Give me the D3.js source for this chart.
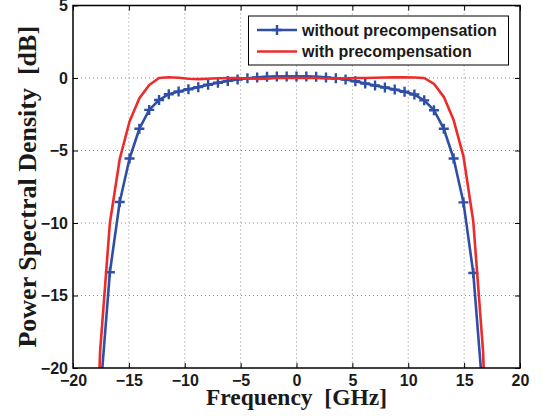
<!DOCTYPE html>
<html>
<head>
<meta charset="utf-8">
<script src="https://cdn.jsdelivr.net/npm/d3@7"></script>
<style>
  body { margin: 0; background: #fff; }
  svg { display: block; }
</style>
</head>
<body>
<div id="chart"></div>
<script>
// frequency grid [GHz] shared by both curves
const freq = [-18.46, -17.58, -16.70, -15.82, -14.94, -14.06, -13.18, -12.30, -11.43, -10.55,
  -9.67, -8.79, -7.91, -7.03, -6.15, -5.27, -4.39, -3.52, -2.64, -1.76, -0.88,
  0.00, 0.88, 1.76, 2.64, 3.52, 4.39, 5.27, 6.15, 7.03, 7.91, 8.79, 9.67, 10.55,
  11.43, 12.30, 13.18, 14.06, 14.94, 15.82, 16.70, 17.58];

const withoutPrecomp = [-40, -22, -13.4, -8.55, -5.55, -3.5, -2.2, -1.52, -1.12, -0.93,
  -0.78, -0.63, -0.47, -0.33, -0.2, -0.1, -0.02, 0.04, 0.08, 0.1, 0.1,
  0.1, 0.1, 0.08, 0.04, -0.02, -0.1, -0.22, -0.38, -0.52, -0.65, -0.8, -0.95, -1.14,
  -1.54, -2.22, -3.5, -5.55, -8.58, -13.45, -22, -40];

const withPrecomp = [-40, -18.9, -10, -5.6, -3.0, -1.4, -0.48, 0, 0.05, 0.02,
  -0.05, -0.08, -0.05, -0.02, 0, 0, -0.03, -0.06, -0.04, 0, 0,
  0, 0, 0, -0.03, -0.04, -0.02, 0, 0, 0.02, 0.03, 0.04, 0.04, 0.03,
  0, -0.4, -1.3, -2.9, -5.4, -9.9, -18.9, -40];

const xTicks = [-20, -15, -10, -5, 0, 5, 10, 15, 20];
const yTicks = [-20, -15, -10, -5, 0, 5];
const legendLabels = ['without precompensation', 'with precompensation'];

const W = 542, H = 416;
const plotL = 73, plotR = 520, plotT = 5.5, plotB = 368;
const blue = '#2f4ea6', red = '#ec2b2b';
const sans = '"Liberation Sans", Arial, sans-serif';
const serif = '"Liberation Serif", "Times New Roman", serif';

const svg = d3.select('#chart').append('svg')
  .attr('width', W)
  .attr('height', H);

const x = d3.scaleLinear().domain([-20, 20]).range([plotL, plotR]);
const y = d3.scaleLinear().domain([-20, 5]).range([plotB, plotT]);

// dotted grid
const grid = svg.append('g')
  .attr('stroke', '#8a8a8a')
  .attr('stroke-width', 1)
  .attr('stroke-dasharray', '1,3');
grid.selectAll('.gx').data(xTicks.slice(1, -1)).join('line')
  .attr('x1', d => x(d)).attr('x2', d => x(d))
  .attr('y1', plotT).attr('y2', plotB);
grid.selectAll('.gy').data(yTicks.slice(1, -1)).join('line')
  .attr('x1', plotL).attr('x2', plotR)
  .attr('y1', d => y(d)).attr('y2', d => y(d));

svg.append('clipPath').attr('id', 'clip')
  .append('rect')
  .attr('x', plotL).attr('y', plotT)
  .attr('width', plotR - plotL).attr('height', plotB - plotT);

const plot = svg.append('g').attr('clip-path', 'url(#clip)');

const line = d3.line()
  .x((d, i) => x(freq[i]))
  .y(d => y(d));

const plusPath = 'M-5,0H5M0,-5V5';

plot.append('path')
  .datum(withoutPrecomp)
  .attr('d', line)
  .attr('fill', 'none')
  .attr('stroke', blue)
  .attr('stroke-width', 2.6)
  .attr('stroke-linejoin', 'round');

plot.selectAll('.marker').data(withoutPrecomp).join('path')
  .attr('transform', (d, i) => `translate(${x(freq[i])},${y(d)})`)
  .attr('d', plusPath)
  .attr('stroke', blue)
  .attr('stroke-width', 2.4);

plot.append('path')
  .datum(withPrecomp)
  .attr('d', line)
  .attr('fill', 'none')
  .attr('stroke', red)
  .attr('stroke-width', 2.6)
  .attr('stroke-linejoin', 'round');

// axes with inward ticks
const fmt = d3.format('d');
const xAxis = svg.append('g')
  .attr('transform', `translate(0,${plotB})`)
  .call(d3.axisBottom(x).tickValues(xTicks).tickFormat(fmt).tickSize(-5).tickPadding(7));
const yAxis = svg.append('g')
  .attr('transform', `translate(${plotL},0)`)
  .call(d3.axisLeft(y).tickValues(yTicks).tickFormat(fmt).tickSize(-5).tickPadding(5));
svg.append('g')
  .attr('transform', `translate(0,${plotT})`)
  .call(d3.axisTop(x).tickValues(xTicks).tickFormat('').tickSize(-5));
svg.append('g')
  .attr('transform', `translate(${plotR},0)`)
  .call(d3.axisRight(y).tickValues(yTicks).tickFormat('').tickSize(-5));

svg.selectAll('.domain').remove();
svg.selectAll('.tick line').attr('stroke', '#000').attr('stroke-width', 1);
[xAxis, yAxis].forEach(a => a.selectAll('text')
  .attr('font-family', sans)
  .attr('font-size', 16)
  .attr('font-weight', 'bold')
  .attr('fill', '#1a1a1a'));

svg.append('rect')
  .attr('x', plotL).attr('y', plotT)
  .attr('width', plotR - plotL).attr('height', plotB - plotT)
  .attr('fill', 'none')
  .attr('stroke', '#000')
  .attr('stroke-width', 1.5);

// axis titles
svg.append('text')
  .attr('x', (plotL + plotR) / 2)
  .attr('y', 405)
  .attr('text-anchor', 'middle')
  .attr('font-family', serif)
  .attr('font-weight', 'bold')
  .attr('font-size', 23.5)
  .attr('fill', '#1a1a1a')
  .attr('xml:space', 'preserve')
  .text('Frequency  [GHz]');

svg.append('text')
  .attr('transform', `translate(36,${(plotT + plotB) / 2}) rotate(-90)`)
  .attr('text-anchor', 'middle')
  .attr('font-family', serif)
  .attr('font-weight', 'bold')
  .attr('font-size', 26)
  .attr('fill', '#1a1a1a')
  .attr('xml:space', 'preserve')
  .text('Power Spectral Density  [dB]');

// legend
const legend = svg.append('g');
legend.append('rect')
  .attr('x', 248.5).attr('y', 16)
  .attr('width', 260).attr('height', 49)
  .attr('fill', '#fff')
  .attr('stroke', '#000')
  .attr('stroke-width', 1);

const legendColors = [blue, red];
const rows = legend.selectAll('.row').data(legendLabels).join('g')
  .attr('transform', (d, i) => `translate(0,${30 + i * 21.5})`);
rows.append('line')
  .attr('x1', 257).attr('x2', 297)
  .attr('stroke', (d, i) => legendColors[i])
  .attr('stroke-width', 2.6);
rows.filter((d, i) => i === 0).append('path')
  .attr('transform', 'translate(277,0)')
  .attr('d', plusPath)
  .attr('stroke', blue)
  .attr('stroke-width', 2.4);
rows.append('text')
  .attr('x', 302)
  .attr('y', 5.5)
  .attr('font-family', sans)
  .attr('font-size', 16)
  .attr('font-weight', 'bold')
  .attr('fill', '#1a1a1a')
  .text(d => d);
</script>
</body>
</html>
